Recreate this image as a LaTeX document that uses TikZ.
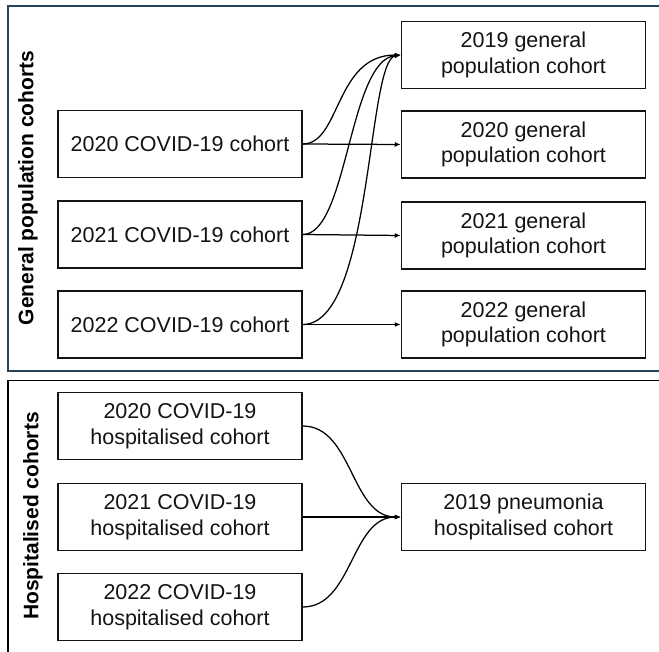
\documentclass[tikz,border=0pt]{standalone}
\usepackage{fontspec}
\setmainfont{Liberation Sans}
\usetikzlibrary{arrows.meta}
\definecolor{panelblue}{RGB}{40,66,88}
\definecolor{txt}{RGB}{20,20,20}
\tikzset{
  box/.style={draw=txt, line width=1.5pt, minimum width=244pt, minimum height=67pt,
    inner sep=0pt, align=center, text=txt, font=\fontsize{21.5}{25.5}\selectfont},
  conn/.style={draw=black, line width=1.25pt, -{Latex[length=6pt,width=5pt]}},
  sidelabel/.style={rotate=90, font=\bfseries\fontsize{21}{24}\selectfont, text=black}
}
\begin{document}
\begin{tikzpicture}[x=1pt,y=-1pt]
\useasboundingbox (0,0) rectangle (659,652);
\clip (0,0) rectangle (659,652);
\fill[white] (0,0) rectangle (659,652);
% panels
\draw[panelblue, line width=1.8pt] (680,6) -- (8,6) -- (8,371) -- (680,371);
\draw[black, line width=1.5pt] (680,380.5) -- (8,380.5) -- (8,680);
\node[sidelabel] (lab1) at (28,188) {General population cohorts};
\node[sidelabel] (lab2) at (33,516) {Hospitalised cohorts};
% top panel nodes
\node[box] (g20) at (180,144) {2020 COVID-19 cohort};
\node[box] (g21) at (180,234.5) {2021 COVID-19 cohort};
\node[box] (g22) at (180,324.5) {2022 COVID-19 cohort};
\node[box] (p19) at (523.5,55) {2019 general\\population cohort};
\node[box] (p20) at (523.5,144.5) {2020 general\\population cohort};
\node[box] (p21) at (523.5,235.5) {2021 general\\population cohort};
\node[box] (p22) at (523.5,324.5) {2022 general\\population cohort};
% bottom panel nodes
\node[box] (h20) at (180,426) {2020 COVID-19\\hospitalised cohort};
\node[box] (h21) at (180,517) {2021 COVID-19\\hospitalised cohort};
\node[box] (h22) at (180,607) {2022 COVID-19\\hospitalised cohort};
\node[box] (pn) at (523.5,517) {2019 pneumonia\\hospitalised cohort};
% top connectors
\draw[conn] (g20.east) -- (p20.west);
\draw[conn] (g21.east) -- (p21.west);
\draw[conn] (g22.east) -- (p22.west);
\draw[conn] (g20.east) .. controls +(38,0) and +(-66,0) .. (p19.west);
\draw[conn] (g21.east) .. controls +(45,0) and +(-52,5) .. (p19.west);
\draw[conn] (g22.east) .. controls +(70,0) and +(-34,5) .. (p19.west);
% bottom connectors
\draw[conn] (h20.east) .. controls +(50,0) and +(-50,0) .. (pn.west);
\draw[conn] (h21.east) -- (pn.west);
\draw[conn] (h22.east) .. controls +(50,0) and +(-50,0) .. (pn.west);
\end{tikzpicture}
\end{document}
